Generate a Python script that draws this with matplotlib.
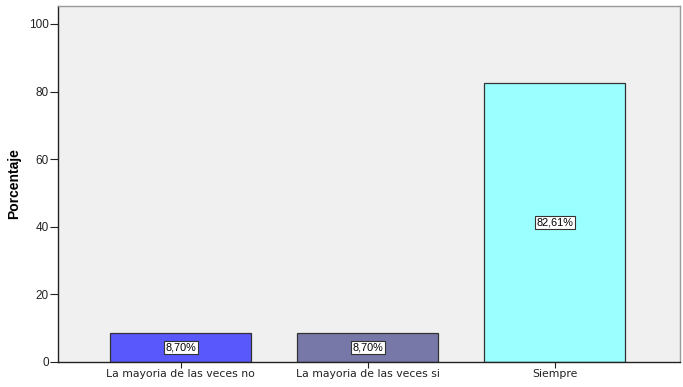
import matplotlib
matplotlib.use("Agg")
import matplotlib.pyplot as plt

categorias = ['La mayoria de las veces no', 'La mayoria de las veces si', 'Siempre']
porcentajes = [8.70, 8.70, 82.61]
etiquetas = ['8,70%', '8,70%', '82,61%']
colores = ['#5858fc', '#7777a8', '#9cffff']

fig = plt.figure(figsize=(6.83, 3.87), dpi=100)
ax = fig.add_axes([0.0849, 0.0646, 0.9107, 0.92])
ax.set_facecolor('#f0f0f0')

x = range(len(categorias))
ax.bar(x, porcentajes, width=0.754, color=colores, edgecolor='#333333', linewidth=0.9)

# etiquetas dentro de las barras
for i, v in enumerate(porcentajes):
    ax.text(i, v / 2, etiquetas[i], ha='center', va='center', fontsize=7.8,
            family='Liberation Sans',
            bbox=dict(boxstyle='square,pad=0.15', fc='white', ec='#333333', lw=0.8))

ax.set_xlim(-0.655, 2.67)
ax.set_ylim(0, 105.3)
ax.set_yticks([0, 20, 40, 60, 80, 100])
ax.set_xticks(list(x))
ax.set_xticklabels(categorias, fontsize=7.8, family='DejaVu Sans')
for lab in ax.get_yticklabels():
    lab.set_fontsize(8.5)
    lab.set_family('Liberation Sans')
ax.tick_params(axis='y', length=6, width=0.8, pad=0.5, colors='#222222')
ax.tick_params(axis='x', length=4, width=0.8, pad=1, colors='#222222')
ax.set_ylabel('Porcentaje', fontsize=10, fontweight='bold', family='Liberation Sans', labelpad=6)

for s in ['left', 'bottom']:
    ax.spines[s].set_color('#222222')
    ax.spines[s].set_linewidth(1.0)
for s in ['top', 'right']:
    ax.spines[s].set_color('#999999')
    ax.spines[s].set_linewidth(1.0)

fig.savefig('out.png', dpi=100)
